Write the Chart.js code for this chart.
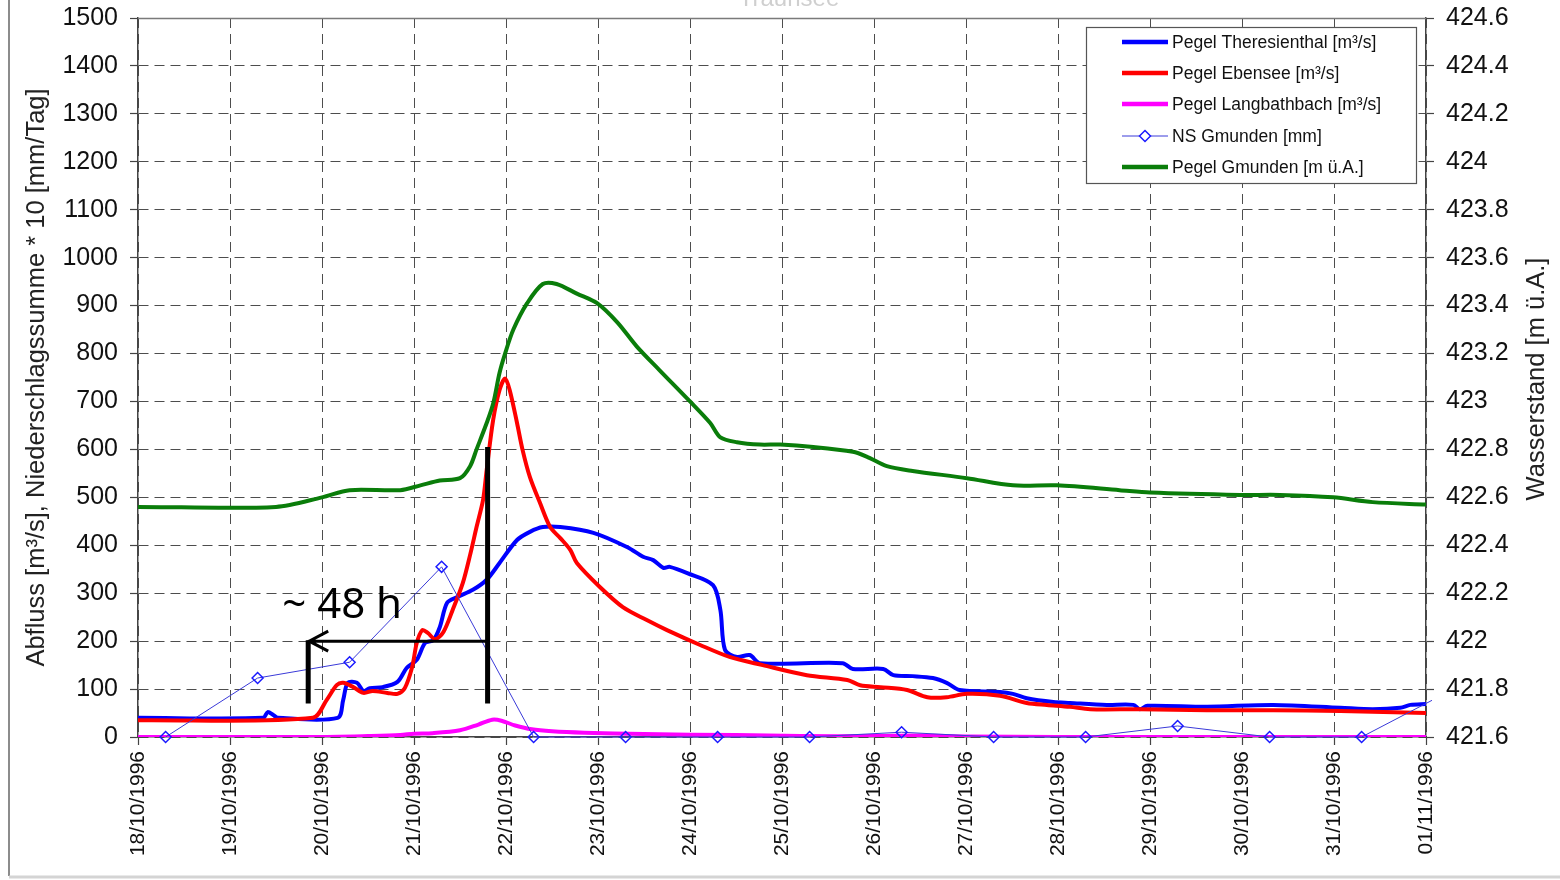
<!DOCTYPE html>
<html>
<head>
<meta charset="utf-8">
<script src="https://cdn.jsdelivr.net/npm/chart.js@4.4.1/dist/chart.umd.min.js"></script>
<style>
  html, body { margin: 0; padding: 0; background: #ffffff; }
  #wrap { width: 1560px; height: 880px; position: relative; }
  canvas { display: block; }
</style>
</head>
<body>
<div id="wrap"><canvas id="chart" width="1560" height="880"></canvas></div>
<script>
// Tick labels of the time axis (one per day, 00:00)
const dateLabels = ['18/10/1996', '19/10/1996', '20/10/1996', '21/10/1996', '22/10/1996',
  '23/10/1996', '24/10/1996', '25/10/1996', '26/10/1996', '27/10/1996', '28/10/1996',
  '29/10/1996', '30/10/1996', '31/10/1996', '01/11/1996'];

// Time of each reading, in days after 18/10/1996 00:00
const theresienthalT = [0, 1.36, 1.41, 1.47, 1.52, 2.17, 2.23, 2.28, 2.38, 2.45, 2.52, 2.66, 2.82, 2.92, 3.03,
  3.12, 3.21, 3.28, 3.36, 3.47, 3.64, 3.79, 3.93, 4.12, 4.26, 4.40, 4.59, 4.95, 5.32, 5.49, 5.60, 5.71,
  5.78, 5.97, 6.25, 6.33, 6.38, 6.51, 6.65, 6.76, 7.66, 7.77, 8.10, 8.21, 8.42, 8.64, 8.79, 8.93, 9.37,
  9.51, 9.66, 9.95, 10.13, 10.53, 10.82, 10.89, 10.97, 11.62, 12.34, 13.07, 13.42, 13.72, 13.83, 14.0];
// Discharge Theresienthal [m³/s]
const theresienthalQ = [40, 40, 52, 46, 40, 40, 77, 113, 113, 96, 102, 104, 115, 144, 161,
  196, 202, 229, 280, 292, 307, 328, 363, 411, 428, 438, 438, 426, 396, 376, 369, 353,
  355, 342, 317, 265, 182, 167, 171, 154, 154, 142, 142, 129, 127, 123, 113, 98, 94,
  90, 81, 73, 71, 67, 67, 58, 65, 63, 67, 61, 58, 61, 67, 69];

const ebenseeT = [0, 1.90, 2.05, 2.16, 2.23, 2.34, 2.45, 2.55, 2.71, 2.82, 2.90, 2.98, 3.03, 3.09, 3.15,
  3.23, 3.32, 3.42, 3.53, 3.61, 3.68, 3.75, 3.79, 3.86, 3.93, 3.99, 4.04, 4.12, 4.18, 4.26, 4.37, 4.48,
  4.59, 4.70, 4.77, 5.02, 5.27, 5.53, 5.75, 6.11, 6.43, 6.79, 7.27, 7.71, 7.85, 8.07, 8.36, 8.58, 8.79,
  9.01, 9.37, 9.66, 9.88, 10.13, 10.35, 10.89, 11.62, 12.34, 13.07, 14.0];
// Discharge Ebensee [m³/s]
const ebenseeQ = [35, 40, 77, 108, 113, 104, 92, 96, 92, 90, 102, 146, 196, 223, 217,
  204, 219, 265, 321, 380, 438, 494, 557, 661, 724, 748, 724, 655, 599, 542, 488, 438,
  415, 390, 363, 313, 271, 244, 223, 192, 167, 150, 129, 119, 108, 104, 98, 83, 83,
  90, 86, 71, 67, 63, 58, 58, 56, 56, 54, 50];

const langbathT = [0, 1.9, 2.5, 2.85, 3.0, 3.2, 3.5, 3.7, 3.85, 3.95, 4.1, 4.28, 4.5, 4.85, 5.5,
  6.5, 7.2, 8.0, 8.5, 9.0, 10.0, 14.0];
// Discharge Langbathbach [m³/s]
const langbathQ = [0, 0, 2, 4, 7, 8, 14, 26, 36, 34, 24, 16, 12, 9, 6, 4, 2, 2, 3, 1, 0, 0];

const nsGmundenT = [0.3, 1.3, 2.3, 3.3, 4.3, 5.3, 6.3, 7.3, 8.3, 9.3, 10.3, 11.3, 12.3, 13.3, 14.3];
// Daily precipitation Gmunden [mm]; plotted ×10 on the left axis
const nsGmundenMm = [0, 12.3, 15.6, 35.5, 0, 0, 0, 0, 1.0, 0, 0, 2.3, 0, 0, 10.0];
const nsFactor = 10;

const gmundenT = [0, 1.5, 2.0, 2.30, 2.85, 3.07, 3.28, 3.50, 3.61, 3.68, 3.79, 3.86, 3.93, 3.99, 4.08,
  4.23, 4.40, 4.55, 4.77, 4.99, 5.21, 5.42, 5.67, 6.0, 6.22, 6.33, 6.51, 6.76, 6.98, 7.34, 7.77, 7.92,
  8.14, 8.42, 9.01, 9.51, 9.99, 10.67, 11.0, 11.98, 12.41, 12.99, 13.42, 14.0];
// Lake level Gmunden [m ü.A.]
const gmundenH = [422.56, 422.56, 422.60, 422.63, 422.63, 422.65, 422.67, 422.68, 422.73, 422.80,
  422.91, 422.99, 423.12, 423.20, 423.30, 423.41, 423.49, 423.49, 423.45, 423.41, 423.33, 423.23,
  423.13, 423.00, 422.91, 422.85, 422.83, 422.82, 422.82, 422.81, 422.79, 422.77, 422.73, 422.71,
  422.68, 422.65, 422.65, 422.63, 422.62, 422.61, 422.61, 422.60, 422.58, 422.57];

// Lag marker: peak precipitation to flood peak (~48 h)
const lagFrom = 1.85, lagTo = 3.80;        // days
const lagLevel = 200, lagBase = 70, lagTop = 605; // left-axis units

const FONT = "'Liberation Sans', Arial, sans-serif";
const GRID = '#4d4d4d';
const AXIS = '#444444';

function pts(ts, vs, k) {
  return ts.map((t, i) => ({ x: t, y: vs[i] * (k || 1) }));
}

// no extra room above/below the plot for the end tick labels
function noLabelPadding(s) {
  s.paddingTop = 0; s.paddingBottom = 0; s.paddingLeft = 0; s.paddingRight = 0;
}

const overlay = {
  id: 'overlay',
  afterDatasetsDraw(chart) {
    const { ctx, scales: { x, y } } = chart;
    const x1 = x.getPixelForValue(lagFrom), x2 = x.getPixelForValue(lagTo);
    const yl = y.getPixelForValue(lagLevel), yb = y.getPixelForValue(lagBase), yt = y.getPixelForValue(lagTop);
    ctx.save();
    ctx.strokeStyle = '#000';
    ctx.lineCap = 'butt';
    ctx.lineWidth = 5;
    ctx.beginPath();
    ctx.moveTo(x2, yt); ctx.lineTo(x2, yb);
    ctx.moveTo(x1, yl - 1); ctx.lineTo(x1, yb);
    ctx.stroke();
    ctx.lineWidth = 3;
    ctx.beginPath();
    ctx.moveTo(x2, yl); ctx.lineTo(x1, yl);
    ctx.moveTo(x1 + 20, yl - 10); ctx.lineTo(x1 + 1, yl); ctx.lineTo(x1 + 20, yl + 10);
    ctx.stroke();
    ctx.fillStyle = '#000';
    ctx.font = "42px 'Noto Sans', sans-serif";
    ctx.textBaseline = 'alphabetic';
    ctx.textAlign = 'left';
    ctx.fillText('~ 48 h', x1 - 26, yl - 23);
    ctx.restore();
  },
  afterDraw(chart) {
    const { ctx, chartArea: a } = chart;
    ctx.save();
    // plot frame top edge
    ctx.strokeStyle = '#7a7a7a';
    ctx.lineWidth = 1.5;
    ctx.beginPath();
    ctx.moveTo(a.left, a.top + 0.5); ctx.lineTo(a.right, a.top + 0.5);
    ctx.stroke();

    // outer frame
    ctx.strokeStyle = '#8c8c8c';
    ctx.lineWidth = 2;
    ctx.beginPath();
    ctx.moveTo(9, 0); ctx.lineTo(9, 876);
    ctx.stroke();
    ctx.strokeStyle = '#d4d4d4';
    ctx.lineWidth = 3;
    ctx.beginPath();
    ctx.moveTo(9, 877); ctx.lineTo(1560, 877);
    ctx.stroke();

    // chart heading (runs off the top edge)
    ctx.fillStyle = '#cfcfcf';
    ctx.font = '24px ' + FONT;
    ctx.textAlign = 'center';
    ctx.textBaseline = 'alphabetic';
    ctx.fillText('Traunsee', 789, 6);

    // right axis title
    ctx.save();
    ctx.translate(1537, 379);
    ctx.rotate(-Math.PI / 2);
    ctx.fillStyle = '#222';
    ctx.font = '25.5px ' + FONT;
    ctx.textAlign = 'center';
    ctx.textBaseline = 'middle';
    ctx.fillText('Wasserstand [m ü.A.]', 0, 0);
    ctx.restore();

    // legend
    const bx = 1086, by = 27, bw = 330, bh = 156;
    ctx.fillStyle = '#ffffff';
    ctx.fillRect(bx, by, bw, bh);
    ctx.strokeStyle = '#555';
    ctx.lineWidth = 1.2;
    ctx.strokeRect(bx + 0.5, by + 0.5, bw, bh);
    ctx.font = '17.5px ' + FONT;
    ctx.textAlign = 'left';
    ctx.textBaseline = 'middle';
    const rows = [42, 73, 104, 136, 167];
    chart.data.datasets.forEach((ds, i) => {
      const yy = rows[i];
      ctx.strokeStyle = ds.borderColor;
      ctx.lineWidth = ds.legendWidth;
      ctx.beginPath();
      ctx.moveTo(1122, yy); ctx.lineTo(1168, yy);
      ctx.stroke();
      if (ds.pointStyle === 'rectRot') {
        const r = 5.5;
        ctx.fillStyle = '#fff';
        ctx.strokeStyle = ds.pointBorderColor;
        ctx.lineWidth = 1.5;
        ctx.beginPath();
        ctx.moveTo(1145, yy - r); ctx.lineTo(1145 + r, yy); ctx.lineTo(1145, yy + r); ctx.lineTo(1145 - r, yy);
        ctx.closePath();
        ctx.fill(); ctx.stroke();
      }
      ctx.fillStyle = '#111';
      ctx.fillText(ds.label, 1172, yy + 1);
    });
    ctx.restore();
  }
};

const commonLine = { pointRadius: 0, borderWidth: 4, tension: 0.3, fill: false, legendWidth: 4.5 };

new Chart(document.getElementById('chart'), {
  type: 'line',
  data: {
    datasets: [
      Object.assign({}, commonLine, {
        label: 'Pegel Theresienthal [m³/s]', data: pts(theresienthalT, theresienthalQ),
        borderColor: '#0000ff', yAxisID: 'y', order: 5
      }),
      Object.assign({}, commonLine, {
        label: 'Pegel Ebensee [m³/s]', data: pts(ebenseeT, ebenseeQ),
        borderColor: '#ff0000', yAxisID: 'y', order: 4
      }),
      Object.assign({}, commonLine, {
        label: 'Pegel Langbathbach [m³/s]', data: pts(langbathT, langbathQ),
        borderColor: '#ff00ff', yAxisID: 'y', order: 3
      }),
      {
        label: 'NS Gmunden [mm]', data: pts(nsGmundenT, nsGmundenMm, nsFactor),
        borderColor: '#3a3ad8', borderWidth: 1, tension: 0, fill: false, legendWidth: 1,
        pointStyle: 'rectRot', pointRadius: 5.5, pointBorderWidth: 1.5,
        pointBorderColor: '#1a1aff', pointBackgroundColor: 'rgba(255,255,255,0)',
        yAxisID: 'y', order: 2, clip: { left: 10, top: 10, right: 6, bottom: 10 }
      },
      Object.assign({}, commonLine, {
        label: 'Pegel Gmunden [m ü.A.]', data: pts(gmundenT, gmundenH),
        borderColor: '#0a7d0a', yAxisID: 'y2', order: 1
      })
    ]
  },
  options: {
    responsive: false,
    devicePixelRatio: 1,
    animation: false,
    events: [],
    layout: { padding: { top: 18, left: 0, right: 0, bottom: 0 } },
    plugins: { legend: { display: false }, tooltip: { enabled: false }, title: { display: false } },
    scales: {
      x: {
        type: 'linear', min: 0, max: 14,
        afterFit(s) { s.height = 143; noLabelPadding(s); },
        ticks: {
          stepSize: 1, autoSkip: false, maxRotation: 90, minRotation: 90, padding: 6,
          color: '#111', font: { family: FONT, size: 21 },
          callback: (v) => dateLabels[v] !== undefined ? dateLabels[v] : ''
        },
        grid: { color: GRID, lineWidth: 1, tickLength: 8, tickColor: AXIS, tickWidth: 1.2 },
        border: { display: true, color: AXIS, width: 1.5, dash: [10, 6] }
      },
      y: {
        position: 'left', min: 0, max: 1500,
        afterFit(s) { s.width = 138; noLabelPadding(s); },
        ticks: { stepSize: 100, padding: 12, color: '#111', font: { family: FONT, size: 25 }, callback: (v) => String(v) },
        grid: { color: GRID, lineWidth: 1, tickLength: 8, tickColor: AXIS, tickWidth: 1.2 },
        border: { display: true, color: AXIS, width: 1.5, dash: [10, 6] },
        title: {
          display: true, text: 'Abfluss [m³/s], Niederschlagssumme * 10 [mm/Tag]',
          color: '#222', font: { family: FONT, size: 25.5 }, padding: { top: 22, bottom: 0 }
        }
      },
      y2: {
        position: 'right', min: 421.6, max: 424.6,
        afterFit(s) { s.width = 134; noLabelPadding(s); },
        ticks: {
          stepSize: 0.2, padding: 12, color: '#111', font: { family: FONT, size: 25 },
          callback: (v) => String(Math.round(v * 10) / 10)
        },
        grid: { drawOnChartArea: false, color: GRID, tickLength: 8, tickColor: AXIS, tickWidth: 1.2 },
        border: { display: true, color: AXIS, width: 1.5 }
      }
    }
  },
  plugins: [overlay]
});
</script>
</body>
</html>
